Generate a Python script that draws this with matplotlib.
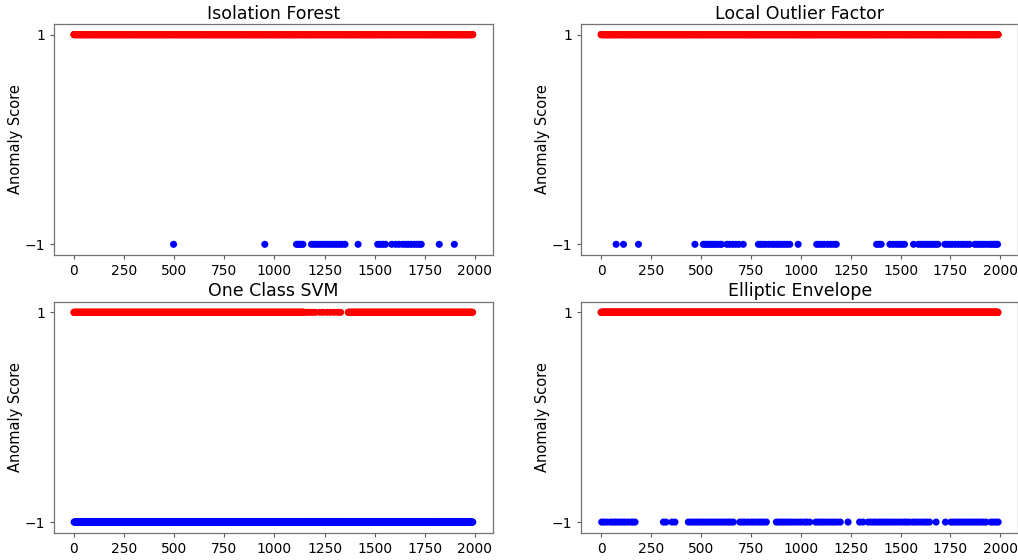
import numpy as np
import matplotlib
matplotlib.use("Agg")
import matplotlib.pyplot as plt

# number of samples (index on x axis)
n_samples = 1990

titles = ["Isolation Forest", "Local Outlier Factor", "One Class SVM", "Elliptic Envelope"]
xtick_values = [0, 250, 500, 750, 1000, 1250, 1500, 1750, 2000]

# indices flagged as anomalies (-1), everything else is 1
iso_outliers = [497, 952, 1110, 1118, 1126, 1134, 1142, 1185, 1198, 1212, 1226, 1240,
                1254, 1268, 1282, 1296, 1310, 1324, 1338, 1352, 1417, 1515, 1528, 1541,
                1554, 1585, 1605, 1622, 1640, 1655, 1668, 1682, 1696, 1710, 1722, 1732,
                1822, 1897]

lof_outliers = [75, 112, 187, 470, 512, 522, 532, 542, 552, 562, 572, 582, 595, 603,
                630, 645, 660, 675, 690, 712, 788, 800, 812, 825, 840, 855, 868, 880,
                892, 905, 918, 932, 945, 987, 1080, 1092, 1105, 1118, 1135, 1150, 1165,
                1178, 1380, 1392, 1403, 1447, 1462, 1478, 1492, 1506, 1520, 1565, 1590,
                1602, 1614, 1626, 1638, 1650, 1662, 1675, 1687, 1722, 1735, 1748, 1760,
                1775, 1790, 1805, 1818, 1832, 1845, 1872, 1884, 1896, 1908, 1920, 1935,
                1948, 1958, 1968, 1978, 1986]

ell_outliers = [3, 15, 28, 45, 58, 70, 82, 95, 108, 120, 135, 150, 160, 170, 312, 325,
                355, 370, 437, 450, 462, 475, 488, 500, 512, 525, 538, 550, 562, 575,
                588, 600, 612, 625, 638, 650, 662, 695, 708, 720, 735, 750, 762, 775,
                790, 802, 815, 828, 878, 890, 902, 915, 928, 940, 955, 970, 985, 1000,
                1018, 1030, 1045, 1075, 1088, 1100, 1112, 1125, 1140, 1155, 1168, 1182,
                1198, 1237, 1295, 1312, 1337, 1350, 1365, 1378, 1392, 1405, 1418, 1432,
                1445, 1460, 1475, 1490, 1505, 1520, 1532, 1545, 1562, 1575, 1590, 1605,
                1620, 1632, 1645, 1678, 1725, 1753, 1765, 1778, 1790, 1802, 1815, 1828,
                1840, 1852, 1865, 1878, 1890, 1902, 1915, 1928, 1953, 1965, 1978, 1989]

# One Class SVM flags most points; inliers (1) are dense spans plus a few stragglers
svm_inlier_spans = [(0, 1150), (1368, 1990)]
svm_inlier_extra = [1162, 1176, 1190, 1204, 1226, 1242, 1262, 1280, 1298, 1316, 1330]


def scores_from_outliers(outliers):
    s = np.ones(n_samples)
    s[np.array(outliers)] = -1
    return s


iso_scores = scores_from_outliers(iso_outliers)
lof_scores = scores_from_outliers(lof_outliers)
ell_scores = scores_from_outliers(ell_outliers)
svm_scores = -np.ones(n_samples)
for a, b in svm_inlier_spans:
    svm_scores[np.arange(a, b, 2)] = 1
svm_scores[np.array(svm_inlier_extra)] = 1

all_scores = [iso_scores, lof_scores, svm_scores, ell_scores]
idx = np.arange(n_samples)

fig = plt.figure(figsize=(10.18, 5.6), dpi=100)
boxes = [
    [0.053, 0.545, 0.431, 0.412],
    [0.571, 0.545, 0.429, 0.412],
    [0.053, 0.049, 0.431, 0.412],
    [0.571, 0.049, 0.429, 0.412],
]

for box, title, scores in zip(boxes, titles, all_scores):
    ax = fig.add_axes(box)
    colors = np.where(scores == 1, "red", "blue")
    ax.scatter(idx, scores, c=colors, s=26, linewidths=0)
    ax.set_title(title, fontsize=12.5, pad=4)
    ax.set_ylabel("Anomaly Score", fontsize=10.5, labelpad=1)
    ax.set_yticks([-1, 1])
    ax.set_xticks(xtick_values)
    ax.tick_params(labelsize=10, length=3, color="0.35")
    for sp in ax.spines.values():
        sp.set_color("0.45")
        sp.set_linewidth(0.9)

fig.savefig("out.png", dpi=100)
